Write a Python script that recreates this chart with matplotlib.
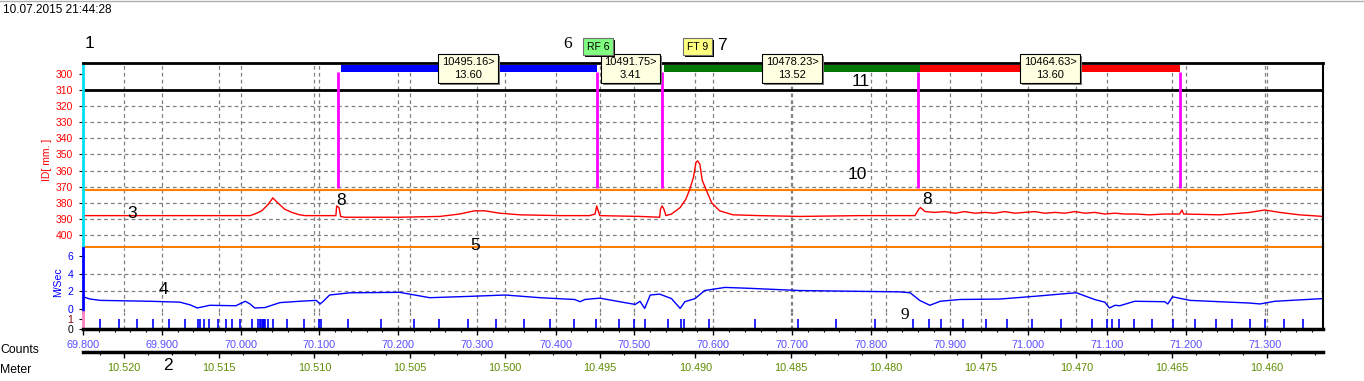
import numpy as np
import matplotlib
matplotlib.use("Agg")
import matplotlib.pyplot as plt
import matplotlib.transforms as mtransforms
from matplotlib.patches import Rectangle
from matplotlib.lines import Line2D
from matplotlib.ticker import MultipleLocator, FormatStrFormatter

plt.rcParams['font.family'] = ['Liberation Sans', 'DejaVu Sans']

W, H = 1364, 381

# Données
date_txt = "10.07.2015 21:44:28"

count_min, count_max = 69.8, 71.374
meter_min, meter_max = 10.52215, 10.45706   # metre au bord gauche / droit

# trace ID (rouge)
id_counts = [69.800, 70.012, 70.018, 70.027, 70.035, 70.041, 70.047, 70.056, 70.065, 70.075,
             70.082, 70.121, 70.122, 70.125, 70.127, 70.132, 70.202, 70.253, 70.278, 70.297,
             70.310, 70.329, 70.355, 70.405, 70.443, 70.450, 70.452, 70.454, 70.456, 70.507,
             70.532, 70.533, 70.535, 70.537, 70.540, 70.547, 70.558, 70.565, 70.570, 70.575,
             70.578, 70.580, 70.583, 70.586, 70.591, 70.598, 70.608, 70.625, 70.659, 70.710,
             70.786, 70.856, 70.861, 70.863, 70.869, 70.881, 70.894, 70.907, 70.919, 70.932,
             70.945, 70.957, 70.970, 70.983, 70.995, 71.008, 71.021, 71.034, 71.046, 71.059,
             71.072, 71.084, 71.097, 71.110, 71.122, 71.135, 71.154, 71.173, 71.192, 71.195,
             71.197, 71.243, 71.281, 71.300, 71.319, 71.344, 71.374]
id_values = [388.0, 388.0, 387.0, 385.0, 381.0, 377.0, 380.0, 384.0, 386.0, 387.5,
             388.0, 388.0, 382.0, 383.0, 388.5, 389.0, 389.0, 388.5, 387.0, 385.0,
             385.0, 386.5, 387.5, 388.0, 388.0, 387.0, 382.0, 385.0, 388.0, 388.5,
             389.0, 384.0, 382.0, 383.5, 388.0, 387.0, 383.0, 378.0, 372.0, 364.0,
             355.0, 354.0, 356.0, 366.0, 372.0, 380.0, 385.0, 387.5, 388.0, 388.5,
             388.0, 388.0, 384.0, 383.0, 385.5, 386.0, 385.5, 386.5, 385.5, 386.5,
             386.0, 386.5, 385.5, 386.5, 386.0, 385.5, 386.5, 386.0, 386.5, 385.5,
             386.5, 386.0, 387.0, 386.5, 387.0, 387.0, 387.5, 387.0, 387.0, 384.5,
             387.0, 387.5, 386.0, 384.5, 386.0, 387.5, 388.5]

# vitesse (bleu)
speed_counts = [69.800, 69.809, 69.822, 69.885, 69.923, 69.936, 69.945, 69.961, 69.994, 70.006,
                70.012, 70.018, 70.031, 70.050, 70.075, 70.096, 70.101, 70.105, 70.113, 70.139,
                70.202, 70.240, 70.291, 70.336, 70.380, 70.424, 70.431, 70.437, 70.456, 70.494,
                70.501, 70.507, 70.513, 70.520, 70.532, 70.547, 70.558, 70.564, 70.577, 70.589,
                70.615, 70.646, 70.710, 70.837, 70.850, 70.862, 70.875, 70.888, 70.913, 70.964,
                71.014, 71.053, 71.061, 71.084, 71.097, 71.103, 71.110, 71.116, 71.135, 71.173,
                71.177, 71.183, 71.205, 71.281, 71.294, 71.313, 71.374]
speed_values = [1.4, 1.15, 1.0, 0.9, 0.8, 0.5, 0.15, 0.45, 0.4, 0.9,
                0.6, 0.15, 0.2, 0.75, 0.9, 1.0, 0.6, 0.9, 1.6, 1.85,
                1.9, 1.3, 1.45, 1.6, 1.3, 1.1, 0.85, 1.1, 1.25, 0.65,
                0.55, 0.9, 0.1, 1.6, 1.7, 1.2, 0.1, 0.85, 1.2, 2.1,
                2.45, 2.35, 2.1, 1.95, 1.85, 1.0, 0.45, 0.9, 1.1, 1.15,
                1.5, 1.8, 1.85, 1.1, 0.8, 0.15, 0.45, 0.4, 0.9, 0.85,
                0.6, 1.4, 1.0, 0.7, 0.6, 0.9, 1.2]

# impulsions (counts)
marker_counts = [69.822, 69.846, 69.869, 69.889, 69.909, 69.929, 69.946, 69.949, 69.954, 69.960,
                 69.971, 69.982, 69.989, 69.999, 70.015, 70.022, 70.025, 70.026, 70.028, 70.029,
                 70.030, 70.031, 70.035, 70.041, 70.059, 70.081, 70.100, 70.102, 70.136, 70.178,
                 70.220, 70.252, 70.289, 70.324, 70.360, 70.393, 70.423, 70.451, 70.480, 70.499,
                 70.513, 70.542, 70.559, 70.563, 70.594, 70.653, 70.707, 70.756, 70.805, 70.853,
                 70.874, 70.889, 70.917, 70.946, 70.973, 71.004, 71.042, 71.081, 71.100, 71.106,
                 71.115, 71.134, 71.157, 71.183, 71.212, 71.238, 71.259, 71.281, 71.301, 71.324,
                 71.348]

id_limits = [372.1, 407.3]
section_counts = [70.124, 70.452, 70.535, 70.860, 71.192]

seg_start = [70.127, 70.537, 70.862]
seg_end = [70.452, 70.862, 71.192]
seg_colors = ["#0000FF", "#007700", "#FF0000"]

box_counts = [70.289, 70.495, 70.700, 71.028]
box_labels = ["10495.16>\n13.60", "10491.75>\n3.41", "10478.23>\n13.52", "10464.63>\n13.60"]

flag_counts = [70.454, 70.580]
flag_labels = ["RF 6", "FT 9"]
flag_colors = ["#80FF80", "#FFFF80"]

callouts = [("1", 90, 43, "sans-serif"), ("6", 568, 44, "serif"), ("7", 722, 46, "sans-serif"),
            ("11", 861, 81, "sans-serif"), ("10", 857, 175, "sans-serif"), ("3", 132, 213, "sans-serif"),
            ("8", 341, 201, "sans-serif"), ("8", 927, 199, "sans-serif"), ("5", 475, 245, "sans-serif"),
            ("4", 163, 290, "sans-serif"), ("9", 905, 315, "serif"), ("2", 168, 365, "sans-serif")]

COL_COUNTS = "#5b4dff"
COL_METER = "#5f8c00"
GRID = dict(color="#808080", lw=0.9, ls=(0, (3, 2.5)), zorder=0)

fig = plt.figure(figsize=(W / 100, H / 100), dpi=100)


def px_axes(x0, y0, x1, y1):
    return fig.add_axes([x0 / W, 1 - y1 / H, (x1 - x0) / W, (y1 - y0) / H])


def m2c(m):
    return count_min + (meter_min - m) / (meter_min - meter_max) * (count_max - count_min)


ax_id = px_axes(83, 63, 1323, 248)
ax_sp = px_axes(83, 248, 1323, 312)
ax_ct = px_axes(83, 312, 1323, 329.3)
ax_m = px_axes(83, 329.3, 1323, 352)

for ax in (ax_id, ax_sp, ax_ct):
    ax.set_xlim(count_min, count_max)
    for c in np.arange(69.9, 71.35, 0.1):
        ax.axvline(c, **GRID)
    for m in np.arange(10.520, 10.4599, -0.005):
        ax.axvline(m2c(m), **GRID)
    ax.spines['right'].set_color("black")
    ax.spines['right'].set_linewidth(1.5)
    ax.tick_params(axis='y', length=3, width=0.8, color="black", pad=4, labelsize=7.5)

# --- panneau ID ---
ax_id.set_ylim(408.1, 293.24)
ax_id.set_xticks([])
ax_id.set_yticks(np.arange(300, 401, 10))
for lab in ax_id.get_yticklabels():
    lab.set_color("red")
for t in np.arange(320, 401, 10):
    ax_id.axhline(t, **GRID)
ax_id.spines['top'].set_linewidth(2)
ax_id.spines['left'].set_color("#00E0F0")
ax_id.spines['left'].set_linewidth(2)
ax_id.spines['bottom'].set_visible(False)
ax_id.axhline(310, color="black", lw=2)
for v in id_limits:
    ax_id.axhline(v, color="#FF8000", lw=1.5, clip_on=False)
ax_id.plot(id_counts, id_values, color="red", lw=1)
ax_id.vlines(section_counts, 298.6, 371, color="#FF00FF", lw=2)
for s, e, c in zip(seg_start, seg_end, seg_colors):
    ax_id.add_patch(Rectangle((s, 294.5), e - s, 4.1, color=c, lw=0))

shadow = mtransforms.offset_copy(ax_id.transData, fig=fig, x=2, y=-2, units='dots')
for c, lab in zip(box_counts, box_labels):
    kw = dict(ha="center", va="center", fontsize=8, linespacing=1.3, zorder=10)
    ax_id.text(c, 296.7, lab, color=(0, 0, 0, 0), transform=shadow,
               bbox=dict(boxstyle="square,pad=0.32", fc="#7a7a7a", ec="none"), **kw)
    ax_id.text(c, 296.7, lab, color="black",
               bbox=dict(boxstyle="square,pad=0.32", fc="#FFFFE1", ec="black", lw=0.8), **kw)
for c, lab, col in zip(flag_counts, flag_labels, flag_colors):
    kw = dict(ha="center", va="center", fontsize=7.5, zorder=10)
    ax_id.text(c, 283.0, lab, color=(0, 0, 0, 0), transform=shadow,
               bbox=dict(boxstyle="square,pad=0.35", fc="black", ec="none"), **kw)
    ax_id.text(c, 283.0, lab, color="black",
               bbox=dict(boxstyle="square,pad=0.35", fc=col, ec="#707070", lw=0.8), **kw)

# --- panneau vitesse ---
ax_sp.set_ylim(-0.30, 6.86)
ax_sp.set_xticks([])
ax_sp.set_yticks([0, 2, 4, 6])
for lab in ax_sp.get_yticklabels():
    lab.set_color("blue")
for t in (2, 4):
    ax_sp.axhline(t, **GRID)
ax_sp.spines['top'].set_visible(False)
ax_sp.spines['bottom'].set_visible(False)
ax_sp.spines['left'].set_color("blue")
ax_sp.spines['left'].set_linewidth(2)
ax_sp.plot(speed_counts, speed_values, color="blue", lw=1)

# --- panneau counts ---
ax_ct.set_ylim(0, 1.68)
ax_ct.set_yticks([0, 1])
for lab, col in zip(ax_ct.get_yticklabels(), ["black", "#800000"]):
    lab.set_color(col)
ax_ct.spines['top'].set_visible(False)
ax_ct.spines['left'].set_color("#FF80C0")
ax_ct.spines['left'].set_linewidth(2)
ax_ct.spines['bottom'].set_linewidth(2.5)
ax_ct.vlines(marker_counts, 0, 1, color="blue", lw=1.2)
ax_ct.xaxis.set_major_locator(MultipleLocator(0.1))
ax_ct.xaxis.set_minor_locator(MultipleLocator(0.02))
ax_ct.xaxis.set_major_formatter(FormatStrFormatter("%.3f"))
ax_ct.tick_params(axis='x', which='major', length=4, width=1, pad=3.8, labelsize=7.8,
                  labelcolor=COL_COUNTS)
ax_ct.tick_params(axis='x', which='minor', length=2.5, width=0.8)

# --- axe metre ---
ax_m.set_xlim(meter_min, meter_max)
ax_m.patch.set_visible(False)
for s in ('top', 'left', 'right'):
    ax_m.spines[s].set_visible(False)
ax_m.spines['bottom'].set_linewidth(2.5)
ax_m.set_yticks([])
ax_m.xaxis.set_major_locator(MultipleLocator(0.005))
ax_m.xaxis.set_minor_locator(MultipleLocator(0.00125))
ax_m.xaxis.set_major_formatter(FormatStrFormatter("%.3f"))
ax_m.tick_params(axis='x', which='major', length=4, width=1, pad=3.8, labelsize=7.8,
                 labelcolor=COL_METER)
ax_m.tick_params(axis='x', which='minor', length=2.5, width=0.8)

# --- textes ---
fig.add_artist(Line2D([0, 1], [1 - 1 / H, 1 - 1 / H], color="#b0b0b0", lw=1))
fig.text(3 / W, 1 - 10 / H, date_txt, fontsize=8.5, va="center", ha="left")
fig.text(47 / W, 1 - 160 / H, "ID[ mm. ]", color="red", rotation=90, fontsize=7.5,
         ha="center", va="center")
fig.text(58 / W, 1 - 282 / H, "M/Sec", color="blue", rotation=90, fontsize=7.5,
         ha="center", va="center")
fig.text(0, 1 - 350 / H, "Counts", fontsize=8.8, ha="left", va="center")
fig.text(0, 1 - 370 / H, "Meter", fontsize=8.8, ha="left", va="center")
for lab, x, y, fam in callouts:
    fam_list = ['Liberation Serif', 'DejaVu Serif'] if fam == "serif" else ['Liberation Sans', 'DejaVu Sans']
    fig.text(x / W, 1 - y / H, lab, fontsize=12.5, ha="center", va="center", family=fam_list)

fig.savefig("out.png", dpi=100)
